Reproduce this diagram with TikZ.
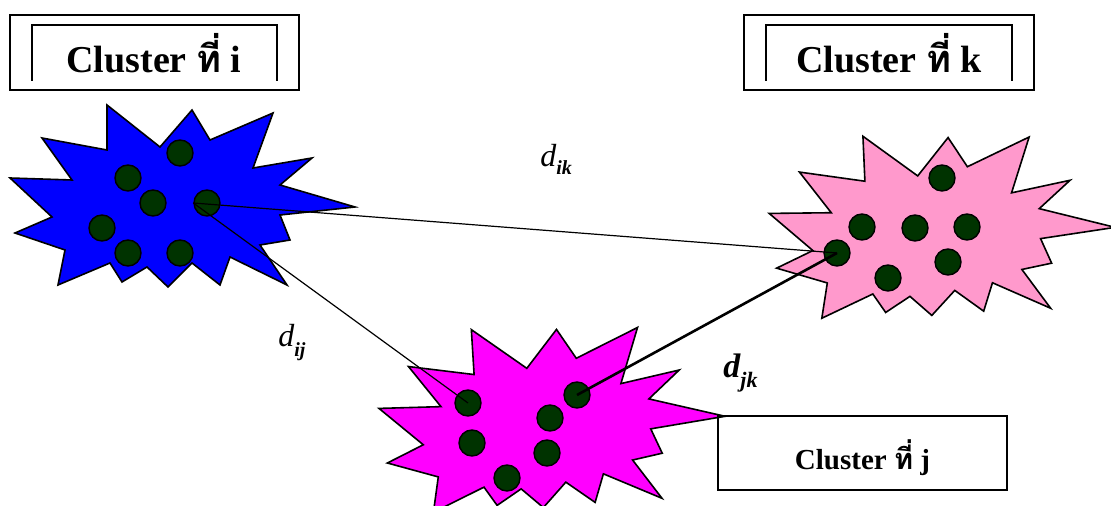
\documentclass[tikz,border=0pt]{standalone}
\usepackage{fontspec}
\setmainfont{Liberation Serif}
\newfontfamily\thaifont[Script=Thai]{Loma}
\definecolor{dotgreen}{RGB}{0,51,0}
\definecolor{burstblue}{RGB}{0,0,255}
\definecolor{burstpink}{RGB}{255,153,204}
\definecolor{burstmagenta}{RGB}{255,0,255}
% one spiky cluster outline, #1 fill colour, #2 shift, #3 turn
\newcommand{\burstshape}[3]{%
  \draw[burst,fill=#1,shift={#2},rotate around={#3:(180,200)}] (10,178) -- (72,180) -- (42,138)
    -- (107,150) -- (107,105) -- (160,147) -- (192,110) -- (210,140) -- (273,113) -- (253,168)
    -- (312,158) -- (280,185) -- (355,207) -- (280,215) -- (290,240) -- (260,245) -- (287,285)
    -- (230,257) -- (220,285) -- (192,263) -- (168,287) -- (147,267) -- (122,282)
    -- (110,263) -- (58,285) -- (65,250) -- (15,233) -- (52,217) -- cycle;}

\begin{document}
\begin{tikzpicture}[x=0.5pt,y=-0.5pt]
\tikzset{burst/.style={draw,line width=0.8pt,line join=miter},
  dot/.style={circle,draw,fill=dotgreen,minimum size=13pt,inner sep=0pt,line width=0.7pt},
  clbox/.style={draw,line width=1pt,minimum width=144.5pt,minimum height=37.5pt,inner sep=0pt,
    text height=20.5pt,text depth=0pt,font=\fontsize{19}{19}\selectfont\bfseries},
  dlab/.style={inner sep=0pt,anchor=base west,font=\fontsize{16}{16}\selectfont\itshape},
  link/.style={line width=0.6pt}}
\clip (0,0) rectangle (1111,506);

% the three clusters
\burstshape{burstblue}{(0,0)}{0}
\burstshape{burstmagenta}{(370,220)}{3.5}
\burstshape{burstpink}{(760,28)}{2.5}

% members
\foreach \n/\x/\y in {1/180/153,2/128/178,3/153/203,4/207/203,5/102/228,6/128/253,7/180/253}
  \node[dot] (i\n) at (\x,\y) {};
\foreach \n/\x/\y in {1/468/403,2/577/395,3/550/418,4/472/443,5/547/453,6/507/478}
  \node[dot] (j\n) at (\x,\y) {};
\foreach \n/\x/\y in {1/942/178,2/862/227,3/915/228,4/967/227,5/837/253,6/948/262,7/888/278}
  \node[dot] (k\n) at (\x,\y) {};

% distances
\draw[link] (i4.west) -- (k5.center);
\draw[link] (i4.west) -- (j1.center);
\draw[link,line width=1.3pt] (j2.center) -- (k5.center);
\node[dlab] (dik) at (540,167) {d\raisebox{-4pt}{\fontsize{10}{10}\selectfont\bfseries ik}};
\node[dlab] (dij) at (278,347) {d\raisebox{-5pt}{\fontsize{10}{10}\selectfont\bfseries ij}};
\node[dlab,font=\fontsize{17}{17}\selectfont\bfseries\itshape] (djk) at (723,378)
  {d\raisebox{-5pt}{\fontsize{11}{11}\selectfont jk}};

% labels
\node[clbox] (boxi) at (154,52.5) {Cluster {\thaifont ที่} i};
\draw[line width=1pt] ([shift={(11.5pt,5pt)}]boxi.south west) |- ([shift={(-11.5pt,-5.5pt)}]boxi.north east)
  -- ([shift={(-11.5pt,5pt)}]boxi.south east);
\node[clbox,minimum width=145pt] (boxk) at (889,52.5) {Cluster {\thaifont ที่} k};
\draw[line width=1pt] ([shift={(11.5pt,5pt)}]boxk.south west) |- ([shift={(-11.5pt,-5.5pt)}]boxk.north east)
  -- ([shift={(-11.5pt,5pt)}]boxk.south east);
\node[clbox,minimum height=37pt,text height=16pt,font=\fontsize{14.5}{14.5}\selectfont\bfseries]
  (boxj) at (862.5,453) {Cluster {\thaifont ที่} j};
\end{tikzpicture}
\end{document}
